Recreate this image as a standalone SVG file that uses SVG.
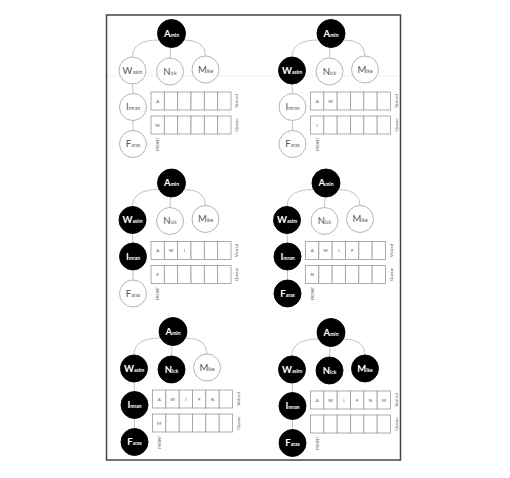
<svg xmlns="http://www.w3.org/2000/svg" width="510" height="478" viewBox="0 0 510 478">
<style>
text{font-family:Lato,"Liberation Sans",sans-serif}
.w{fill:#fff;stroke:#aaa;stroke-width:0.9}
.b{fill:#000;stroke:#000;stroke-width:0.9}
.tw{fill:#555;font-size:5px;text-anchor:middle}
.tb{fill:#fff;font-size:5px;font-weight:bold;text-anchor:middle}
.big{font-size:9.5px}
.edge{fill:none;stroke:#bbb;stroke-width:0.9}
.cell{fill:#fff;stroke:#999;stroke-width:0.8}
.ct{fill:#555;font-size:4.5px;text-anchor:middle}
.lbl{fill:#666;font-size:4.5px;text-anchor:middle}
.fr{fill:#666;font-size:4px;text-anchor:middle}
</style>
<defs>
<g id="e">
<path class="edge" d="M-12.6,6.5 Q-39,6.5 -39,23.5"/>
<path class="edge" d="M12.6,6.5 Q34,6.5 34,22.5"/>
<path class="edge" d="M-1,14 L-1.5,24.5"/>
<path class="edge" d="M-39,50.5 L-38.5,60"/>
<path class="edge" d="M-38.5,87 L-38.5,97"/>
</g>
<g id="boxes">
<rect class="cell" x="-20.5" y="58.5" width="13.33" height="18"/>
<rect class="cell" x="-7.17" y="58.5" width="13.33" height="18"/>
<rect class="cell" x="6.17" y="58.5" width="13.33" height="18"/>
<rect class="cell" x="19.5" y="58.5" width="13.33" height="18"/>
<rect class="cell" x="32.83" y="58.5" width="13.33" height="18"/>
<rect class="cell" x="46.17" y="58.5" width="13.33" height="18"/>
<rect class="cell" x="-20.5" y="82.5" width="13.33" height="18"/>
<rect class="cell" x="-7.17" y="82.5" width="13.33" height="18"/>
<rect class="cell" x="6.17" y="82.5" width="13.33" height="18"/>
<rect class="cell" x="19.5" y="82.5" width="13.33" height="18"/>
<rect class="cell" x="32.83" y="82.5" width="13.33" height="18"/>
<rect class="cell" x="46.17" y="82.5" width="13.33" height="18"/>
<text class="lbl" transform="translate(66.5,67.5) rotate(-90)">Visited</text>
<text class="lbl" transform="translate(66.5,91.5) rotate(-90)">Queue</text>
<text class="fr" transform="translate(-12.5,110.5) rotate(-90)">FRONT</text>
</g>
</defs>
<rect x="0" y="0" width="510" height="478" fill="#fff"/>
<line x1="107" y1="76" x2="400" y2="76" stroke="#ddd" stroke-width="0.8" stroke-dasharray="2,2"/>
<rect x="106.5" y="15" width="294" height="445" fill="none" stroke="#444" stroke-width="1.5"/>

<g id="connectors">
<use href="#e" transform="translate(171.5,33.5)"/>
<use href="#e" transform="translate(331,33.5)"/>
<use href="#e" transform="translate(171.5,183)"/>
<use href="#e" transform="translate(326,183)"/>
<use href="#e" transform="translate(173,331.5)"/>
<use href="#e" transform="translate(331,332.5)"/>
</g>

<!-- Panel 1 -->
<g id="panel1" transform="translate(171.5,33.5)">
<use href="#boxes"/>
<text class="ct" x="-13.83" y="69.1">A</text>
<text class="ct" x="-13.83" y="93.1">W</text>
<g id="p1-amin"><circle class="b" cx="0" cy="0" r="14"/><text class="tb" x="0" y="3.2"><tspan class="big">A</tspan>min</text></g>
<g id="p1-wasim"><circle class="w" cx="-39" cy="37" r="13.5"/><text class="tw" x="-39" y="40.2"><tspan class="big">W</tspan>asim</text></g>
<g id="p1-nick"><circle class="w" cx="-1.5" cy="38" r="13.5"/><text class="tw" x="-1.5" y="41.2"><tspan class="big">N</tspan>ick</text></g>
<g id="p1-mike"><circle class="w" cx="34" cy="36" r="13.5"/><text class="tw" x="34" y="39.2"><tspan class="big">M</tspan>ike</text></g>
<g id="p1-imran"><circle class="w" cx="-38.5" cy="73.5" r="13.5"/><text class="tw" x="-38.5" y="76.7"><tspan class="big">I</tspan>mran</text></g>
<g id="p1-faras"><circle class="w" cx="-38.5" cy="110.5" r="13.5"/><text class="tw" x="-38.5" y="113.7"><tspan class="big">F</tspan>aras</text></g>
</g>

<!-- Panel 2 -->
<g id="panel2" transform="translate(331,33.5)">
<use href="#boxes"/>
<text class="ct" x="-13.83" y="69.1">A</text>
<text class="ct" x="-0.5" y="69.1">W</text>
<text class="ct" x="-13.83" y="93.1">I</text>
<g id="p2-amin"><circle class="b" cx="0" cy="0" r="14"/><text class="tb" x="0" y="3.2"><tspan class="big">A</tspan>min</text></g>
<g id="p2-wasim"><circle class="b" cx="-39" cy="37" r="13.5"/><text class="tb" x="-39" y="40.2"><tspan class="big">W</tspan>asim</text></g>
<g id="p2-nick"><circle class="w" cx="-1.5" cy="38" r="13.5"/><text class="tw" x="-1.5" y="41.2"><tspan class="big">N</tspan>ick</text></g>
<g id="p2-mike"><circle class="w" cx="34" cy="36" r="13.5"/><text class="tw" x="34" y="39.2"><tspan class="big">M</tspan>ike</text></g>
<g id="p2-imran"><circle class="w" cx="-38.5" cy="73.5" r="13.5"/><text class="tw" x="-38.5" y="76.7"><tspan class="big">I</tspan>mran</text></g>
<g id="p2-faras"><circle class="w" cx="-38.5" cy="110.5" r="13.5"/><text class="tw" x="-38.5" y="113.7"><tspan class="big">F</tspan>aras</text></g>
</g>

<!-- Panel 3 -->
<g id="panel3" transform="translate(171.5,183)">
<use href="#boxes"/>
<text class="ct" x="-13.83" y="69.1">A</text>
<text class="ct" x="-0.5" y="69.1">W</text>
<text class="ct" x="12.83" y="69.1">I</text>
<text class="ct" x="-13.83" y="93.1">F</text>
<g id="p3-amin"><circle class="b" cx="0" cy="0" r="14"/><text class="tb" x="0" y="3.2"><tspan class="big">A</tspan>min</text></g>
<g id="p3-wasim"><circle class="b" cx="-39" cy="37" r="13.5"/><text class="tb" x="-39" y="40.2"><tspan class="big">W</tspan>asim</text></g>
<g id="p3-nick"><circle class="w" cx="-1.5" cy="38" r="13.5"/><text class="tw" x="-1.5" y="41.2"><tspan class="big">N</tspan>ick</text></g>
<g id="p3-mike"><circle class="w" cx="34" cy="36" r="13.5"/><text class="tw" x="34" y="39.2"><tspan class="big">M</tspan>ike</text></g>
<g id="p3-imran"><circle class="b" cx="-38.5" cy="73.5" r="13.5"/><text class="tb" x="-38.5" y="76.7"><tspan class="big">I</tspan>mran</text></g>
<g id="p3-faras"><circle class="w" cx="-38.5" cy="110.5" r="13.5"/><text class="tw" x="-38.5" y="113.7"><tspan class="big">F</tspan>aras</text></g>
</g>

<!-- Panel 4 -->
<g id="panel4" transform="translate(326,183)">
<use href="#boxes"/>
<text class="ct" x="-13.83" y="69.1">A</text>
<text class="ct" x="-0.5" y="69.1">W</text>
<text class="ct" x="12.83" y="69.1">I</text>
<text class="ct" x="26.17" y="69.1">F</text>
<text class="ct" x="-13.83" y="93.1">N</text>
<g id="p4-amin"><circle class="b" cx="0" cy="0" r="14"/><text class="tb" x="0" y="3.2"><tspan class="big">A</tspan>min</text></g>
<g id="p4-wasim"><circle class="b" cx="-39" cy="37" r="13.5"/><text class="tb" x="-39" y="40.2"><tspan class="big">W</tspan>asim</text></g>
<g id="p4-nick"><circle class="w" cx="-1.5" cy="38" r="13.5"/><text class="tw" x="-1.5" y="41.2"><tspan class="big">N</tspan>ick</text></g>
<g id="p4-mike"><circle class="w" cx="34" cy="36" r="13.5"/><text class="tw" x="34" y="39.2"><tspan class="big">M</tspan>ike</text></g>
<g id="p4-imran"><circle class="b" cx="-38.5" cy="73.5" r="13.5"/><text class="tb" x="-38.5" y="76.7"><tspan class="big">I</tspan>mran</text></g>
<g id="p4-faras"><circle class="b" cx="-38.5" cy="110.5" r="13.5"/><text class="tb" x="-38.5" y="113.7"><tspan class="big">F</tspan>aras</text></g>
</g>

<!-- Panel 5 -->
<g id="panel5" transform="translate(173,331.5)">
<use href="#boxes"/>
<text class="ct" x="-13.83" y="69.1">A</text>
<text class="ct" x="-0.5" y="69.1">W</text>
<text class="ct" x="12.83" y="69.1">I</text>
<text class="ct" x="26.17" y="69.1">F</text>
<text class="ct" x="39.5" y="69.1">N</text>
<text class="ct" x="-13.83" y="93.1">M</text>
<g id="p5-amin"><circle class="b" cx="0" cy="0" r="14"/><text class="tb" x="0" y="3.2"><tspan class="big">A</tspan>min</text></g>
<g id="p5-wasim"><circle class="b" cx="-39" cy="37" r="13.5"/><text class="tb" x="-39" y="40.2"><tspan class="big">W</tspan>asim</text></g>
<g id="p5-nick"><circle class="b" cx="-1.5" cy="38" r="13.5"/><text class="tb" x="-1.5" y="41.2"><tspan class="big">N</tspan>ick</text></g>
<g id="p5-mike"><circle class="w" cx="34" cy="36" r="13.5"/><text class="tw" x="34" y="39.2"><tspan class="big">M</tspan>ike</text></g>
<g id="p5-imran"><circle class="b" cx="-38.5" cy="73.5" r="13.5"/><text class="tb" x="-38.5" y="76.7"><tspan class="big">I</tspan>mran</text></g>
<g id="p5-faras"><circle class="b" cx="-38.5" cy="110.5" r="13.5"/><text class="tb" x="-38.5" y="113.7"><tspan class="big">F</tspan>aras</text></g>
</g>

<!-- Panel 6 -->
<g id="panel6" transform="translate(331,332.5)">
<use href="#boxes"/>
<text class="ct" x="-13.83" y="69.1">A</text>
<text class="ct" x="-0.5" y="69.1">W</text>
<text class="ct" x="12.83" y="69.1">I</text>
<text class="ct" x="26.17" y="69.1">F</text>
<text class="ct" x="39.5" y="69.1">N</text>
<text class="ct" x="52.83" y="69.1">M</text>
<g id="p6-amin"><circle class="b" cx="0" cy="0" r="14"/><text class="tb" x="0" y="3.2"><tspan class="big">A</tspan>min</text></g>
<g id="p6-wasim"><circle class="b" cx="-39" cy="37" r="13.5"/><text class="tb" x="-39" y="40.2"><tspan class="big">W</tspan>asim</text></g>
<g id="p6-nick"><circle class="b" cx="-1.5" cy="38" r="13.5"/><text class="tb" x="-1.5" y="41.2"><tspan class="big">N</tspan>ick</text></g>
<g id="p6-mike"><circle class="b" cx="34" cy="36" r="13.5"/><text class="tb" x="34" y="39.2"><tspan class="big">M</tspan>ike</text></g>
<g id="p6-imran"><circle class="b" cx="-38.5" cy="73.5" r="13.5"/><text class="tb" x="-38.5" y="76.7"><tspan class="big">I</tspan>mran</text></g>
<g id="p6-faras"><circle class="b" cx="-38.5" cy="110.5" r="13.5"/><text class="tb" x="-38.5" y="113.7"><tspan class="big">F</tspan>aras</text></g>
</g>
</svg>
